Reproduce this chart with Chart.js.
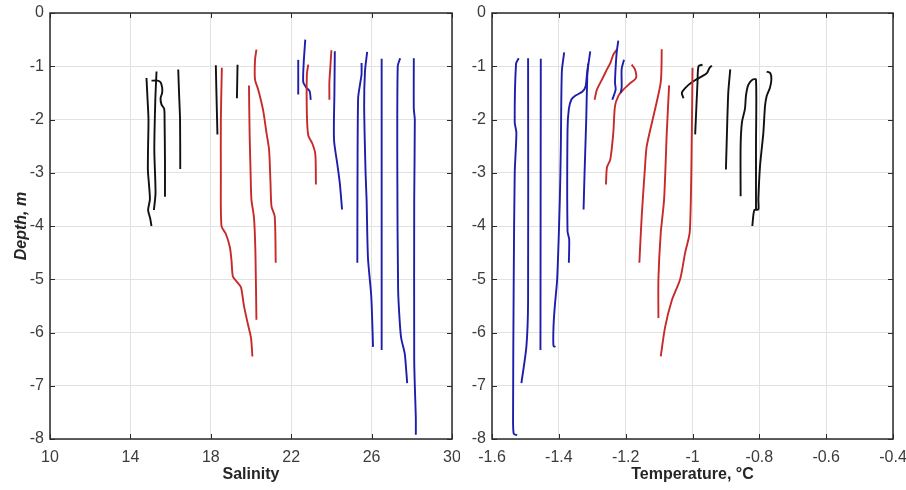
<!DOCTYPE html>
<html>
<head>
<meta charset="utf-8">
<title>Salinity and temperature profiles</title>
<script src="https://cdn.jsdelivr.net/npm/chart.js@4.4.1/dist/chart.umd.min.js"></script>
<style>
  body { margin: 0; background: #fff; }
  #wrap { position: relative; width: 906px; height: 490px; }
  canvas { position: absolute; top: 0; }
  #salChart { left: 0; }
  #tempChart { left: 460px; }
</style>
</head>
<body>
<div id="wrap">
  <canvas id="salChart" width="460" height="490"></canvas>
  <canvas id="tempChart" width="446" height="490"></canvas>
</div>
<script>
// Axis ticks
const depthTicks = [0, -1, -2, -3, -4, -5, -6, -7, -8];
const salinityTicks = [10, 14, 18, 22, 26, 30];
const tempTicks = [-1.6, -1.4, -1.2, -1, -0.8, -0.6, -0.4];

// Salinity profiles, [salinity, depth]
const salBlack = [
    [[14.8,-1.22],[14.85,-1.6],[14.9,-2.0],[14.88,-2.5],[14.87,-2.95],[14.92,-3.2],[14.97,-3.5],[14.88,-3.7],[14.98,-3.85],[15.05,-4.0]],
    [[15.3,-1.1],[15.24,-1.63],[15.19,-2.57],[15.25,-3.38],[15.17,-3.7]],
    [[15.05,-1.27],[15.35,-1.27],[15.5,-1.3],[15.58,-1.4],[15.58,-1.5],[15.5,-1.6],[15.55,-1.72],[15.68,-1.8],[15.7,-2.0],[15.72,-2.8],[15.72,-3.45]],
    [[16.38,-1.06],[16.42,-1.5],[16.47,-2.0],[16.48,-2.93]],
    [[18.25,-0.98],[18.28,-1.5],[18.33,-2.28]],
    [[19.33,-0.97],[19.3,-1.6]]
];
const salRed = [
    [[18.55,-1.03],[18.5,-2.0],[18.5,-3.0],[18.53,-4.0],[18.75,-4.15],[18.95,-4.4],[19.03,-4.65],[19.1,-4.95],[19.3,-5.05],[19.5,-5.15],[19.65,-5.5],[19.85,-5.85],[20.0,-6.1],[20.07,-6.45]],
    [[19.9,-1.36],[19.93,-2.25],[19.98,-3.0],[20.02,-3.5],[20.15,-3.85],[20.22,-4.5],[20.27,-5.76]],
    [[20.27,-0.69],[20.2,-0.88],[20.2,-1.25],[20.36,-1.44],[20.6,-1.82],[20.77,-2.25],[20.9,-2.57],[20.97,-3.19],[21.02,-3.63],[21.18,-3.82],[21.23,-4.69]],
    [[22.85,-0.97],[22.78,-1.15],[22.78,-1.9],[22.85,-2.3],[23.05,-2.45],[23.2,-2.65],[23.23,-3.22]],
    [[24.0,-0.7],[23.95,-1.0],[23.9,-1.3],[23.9,-1.63]]
];
const salBlue = [
    [[22.35,-0.88],[22.35,-1.53]],
    [[22.7,-0.5],[22.62,-0.95],[22.6,-1.3],[22.75,-1.4],[22.92,-1.47],[22.97,-1.63]],
    [[24.17,-0.72],[24.15,-1.5],[24.13,-2.38],[24.3,-2.85],[24.42,-3.2],[24.53,-3.69]],
    [[25.5,-0.94],[25.5,-1.15],[25.42,-1.35],[25.33,-1.6],[25.3,-3.0],[25.29,-4.69]],
    [[25.78,-0.73],[25.67,-1.1],[25.63,-1.75],[25.7,-3.0],[25.75,-3.5],[25.82,-4.6],[25.98,-5.3],[26.05,-6.0],[26.07,-6.27]],
    [[26.5,-0.86],[26.5,-6.33]],
    [[27.42,-0.85],[27.3,-1.0],[27.28,-3.0],[27.32,-5.2],[27.4,-5.8],[27.47,-6.1],[27.65,-6.4],[27.72,-6.7],[27.77,-6.95]],
    [[28.1,-0.85],[28.1,-1.8],[28.15,-2.0],[28.12,-3.5],[28.12,-6.5],[28.15,-7.0],[28.2,-7.6],[28.2,-7.92]]
];

// Temperature profiles, [temperature, depth]
const tempBlue = [
    [[-1.52,-0.85],[-1.528,-0.95],[-1.532,-2.05],[-1.527,-2.25],[-1.532,-3.0],[-1.535,-5.0],[-1.537,-7.6],[-1.535,-7.9],[-1.525,-7.93]],
    [[-1.492,-0.85],[-1.492,-5.4],[-1.497,-6.26],[-1.512,-6.95]],
    [[-1.454,-0.86],[-1.455,-6.33]],
    [[-1.384,-0.74],[-1.391,-1.1],[-1.394,-2.5],[-1.397,-3.5],[-1.405,-5.0],[-1.412,-5.5],[-1.416,-5.9],[-1.416,-6.25],[-1.41,-6.27]],
    [[-1.306,-0.72],[-1.31,-0.9],[-1.315,-1.1],[-1.32,-1.38],[-1.33,-1.48],[-1.35,-1.55],[-1.362,-1.62],[-1.37,-1.8],[-1.374,-2.2],[-1.374,-4.1],[-1.369,-4.25],[-1.37,-4.69]],
    [[-1.312,-0.95],[-1.315,-1.2],[-1.318,-2.0],[-1.323,-3.0],[-1.326,-3.69]],
    [[-1.222,-0.52],[-1.227,-0.75],[-1.232,-1.3],[-1.23,-1.44],[-1.24,-1.63]],
    [[-1.205,-0.88],[-1.212,-1.05],[-1.212,-1.4],[-1.215,-1.5]]
];
const tempRed = [
    [[-1.293,-1.63],[-1.286,-1.44],[-1.271,-1.25],[-1.256,-1.06],[-1.246,-0.94],[-1.237,-0.78],[-1.227,-0.69]],
    [[-1.182,-0.97],[-1.172,-1.06],[-1.169,-1.22],[-1.187,-1.32],[-1.207,-1.44],[-1.222,-1.56],[-1.232,-1.75],[-1.237,-2.25],[-1.246,-2.75],[-1.256,-2.9],[-1.259,-3.22]],
    [[-1.092,-0.68],[-1.095,-1.3],[-1.117,-1.94],[-1.137,-2.5],[-1.142,-2.88],[-1.152,-3.82],[-1.159,-4.69]],
    [[-1.07,-1.36],[-1.077,-2.25],[-1.085,-3.5],[-1.095,-4.13],[-1.102,-5.0],[-1.102,-5.73]],
    [[-1.0,-1.03],[-1.002,-2.25],[-1.008,-4.1],[-1.022,-4.5],[-1.037,-5.0],[-1.062,-5.4],[-1.082,-5.9],[-1.095,-6.45]]
];
const tempBlack = [
    [[-1.027,-1.6],[-1.032,-1.5],[-1.022,-1.41],[-1.002,-1.3],[-0.972,-1.19],[-0.957,-1.13],[-0.949,-1.03],[-0.942,-0.99]],
    [[-0.97,-0.97],[-0.982,-1.0],[-0.985,-1.3],[-0.992,-2.28]],
    [[-0.887,-1.06],[-0.893,-1.5],[-0.898,-2.5],[-0.9,-2.94]],
    [[-0.856,-3.44],[-0.856,-2.5],[-0.852,-2.05],[-0.843,-1.8],[-0.84,-1.55],[-0.833,-1.35],[-0.82,-1.25],[-0.81,-1.25],[-0.81,-2.5],[-0.81,-3.69]],
    [[-0.778,-1.1],[-0.767,-1.13],[-0.764,-1.25],[-0.768,-1.4],[-0.778,-1.56],[-0.783,-1.75],[-0.788,-2.25],[-0.798,-2.88],[-0.803,-3.5],[-0.803,-3.69],[-0.815,-3.7],[-0.821,-4.0]]
];

const BLACK = '#111111';
const RED = '#c62a2a';
const BLUE = '#1e1eaa';
const FONT = '"Liberation Sans", Arial, sans-serif';

function toDatasets(groups) {
    const sets = [];
    groups.forEach(([color, lines]) => {
        lines.forEach(pts => {
            sets.push({
                data: pts.map(p => ({ x: p[0], y: p[1] })),
                borderColor: color,
                borderWidth: 1.9,
                showLine: true,
                pointRadius: 0,
                tension: 0.25
            });
        });
    });
    return sets;
}

// box round the plot area with inward ticks on all sides
const boxPlugin = {
    id: 'box',
    afterDraw(chart) {
        const { ctx, chartArea: a, scales: { x, y } } = chart;
        ctx.save();
        ctx.strokeStyle = '#2a2a2a';
        ctx.lineWidth = 1;
        ctx.beginPath();
        x.ticks.forEach(t => {
            const px = Math.round(x.getPixelForValue(t.value)) + 0.5;
            ctx.moveTo(px, a.bottom); ctx.lineTo(px, a.bottom - 5);
            ctx.moveTo(px, a.top); ctx.lineTo(px, a.top + 5);
        });
        y.ticks.forEach(t => {
            const py = Math.round(y.getPixelForValue(t.value)) + 0.5;
            ctx.moveTo(a.left, py); ctx.lineTo(a.left + 5, py);
            ctx.moveTo(a.right, py); ctx.lineTo(a.right - 5, py);
        });
        ctx.stroke();
        ctx.lineWidth = 1.5;
        ctx.strokeRect(a.left, a.top, a.right - a.left, a.bottom - a.top);
        ctx.restore();
    }
};

function makeChart(id, opts) {
    return new Chart(document.getElementById(id), {
        type: 'scatter',
        data: { datasets: toDatasets(opts.groups) },
        options: {
            responsive: false,
            animation: false,
            layout: { padding: { top: 13, right: opts.padRight, left: 0, bottom: 0 } },
            plugins: { legend: { display: false }, tooltip: { enabled: false } },
            scales: {
                x: {
                    type: 'linear',
                    min: opts.xTicks[0],
                    max: opts.xTicks[opts.xTicks.length - 1],
                    afterBuildTicks: s => { s.ticks = opts.xTicks.map(v => ({ value: v })); },
                    afterFit: s => { s.height = 51; s.paddingLeft = 0; s.paddingRight = 0; },
                    grid: { color: '#e2e2e2', drawTicks: false },
                    border: { display: false },
                    ticks: {
                        autoSkip: false, maxRotation: 0, padding: 9,
                        color: '#3c3c3c', font: { family: FONT, size: 16 },
                        callback: v => String(Number(v.toFixed(1)))
                    },
                    title: {
                        display: true, text: opts.xTitle, color: '#262626',
                        font: { family: FONT, size: 16, weight: 'bold' },
                        padding: { top: 0, bottom: 6 }
                    }
                },
                y: {
                    type: 'linear',
                    min: -8,
                    max: 0,
                    afterBuildTicks: s => { s.ticks = depthTicks.map(v => ({ value: v })); },
                    afterFit: s => { s.width = opts.yWidth; s.paddingTop = 0; s.paddingBottom = 0; },
                    grid: { color: '#e2e2e2', drawTicks: false },
                    border: { display: false },
                    ticks: {
                        autoSkip: false, padding: 6,
                        color: '#3c3c3c', font: { family: FONT, size: 16 },
                        callback: v => String(v)
                    },
                    title: {
                        display: opts.yTitle !== '', text: opts.yTitle, color: '#262626',
                        font: { family: FONT, size: 16, weight: 'bold', style: 'italic' },
                        padding: { top: 12, bottom: 0 }
                    }
                }
            }
        },
        plugins: [boxPlugin]
    });
}

makeChart('salChart', {
    groups: [[BLACK, salBlack], [RED, salRed], [BLUE, salBlue]],
    xTicks: salinityTicks,
    xTitle: 'Salinity',
    yTitle: 'Depth, m',
    yWidth: 50,
    padRight: 8
});

makeChart('tempChart', {
    groups: [[BLUE, tempBlue], [RED, tempRed], [BLACK, tempBlack]],
    xTicks: tempTicks,
    xTitle: 'Temperature, °C',
    yTitle: '',
    yWidth: 32,
    padRight: 13
});
</script>
</body>
</html>
